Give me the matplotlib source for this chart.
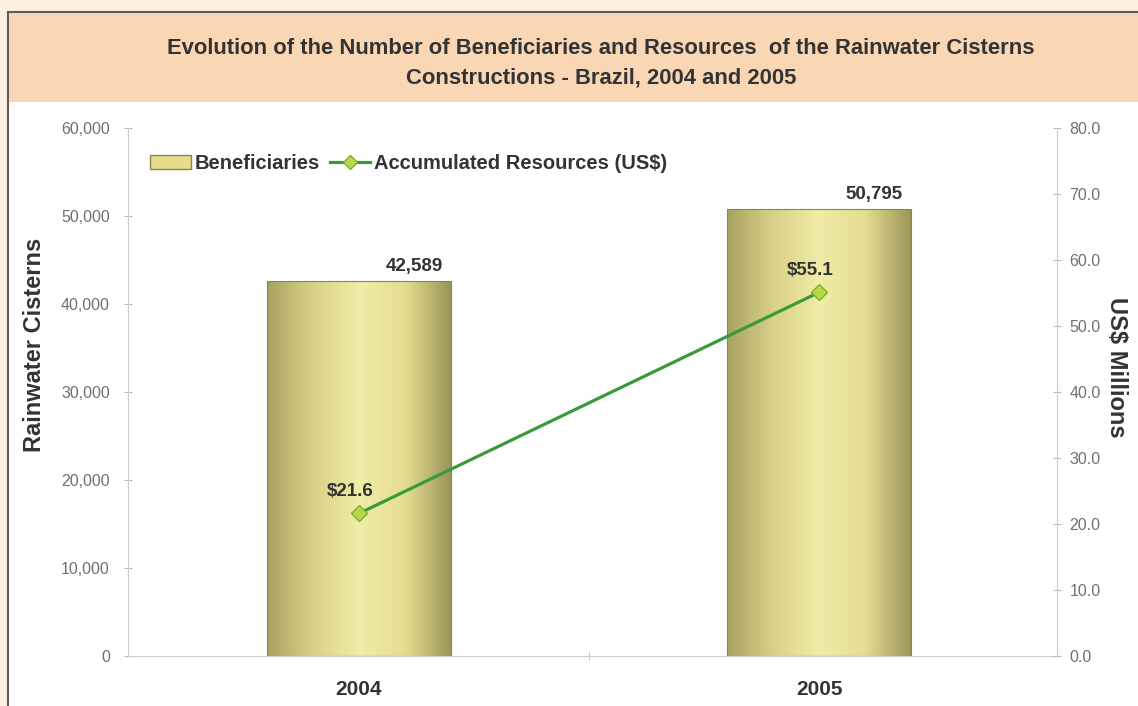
import matplotlib.pyplot as plt
import numpy as np
from matplotlib.colors import LinearSegmentedColormap
from matplotlib.patches import Patch, Rectangle
from matplotlib.lines import Line2D

plt.rcParams['font.family'] = ['Liberation Sans', 'DejaVu Sans']

# data
years = ['2004', '2005']
beneficiaries = [42589, 50795]
resources = [21.6, 55.1]
bar_labels = ['42,589', '50,795']
res_labels = ['$21.6', '$55.1']

fig = plt.figure(figsize=(11.38, 7.06), dpi=100)
fig.patch.set_facecolor('#fdf0e1')

# framed panel with peach title band
fig.patches.append(Rectangle((0.007, -0.01), 1.0, 0.993, transform=fig.transFigure,
                             facecolor='white', edgecolor='#5a5a5a', lw=1.5, zorder=-2))
fig.patches.append(Rectangle((0.008, 0.855), 1.0, 0.126, transform=fig.transFigure,
                             facecolor='#f9d6b4', edgecolor='none', zorder=-1))
fig.text(0.528, 0.932, 'Evolution of the Number of Beneficiaries and Resources  of the Rainwater Cisterns',
         ha='center', va='center', fontsize=15.8, fontweight='bold', color='#333333')
fig.text(0.528, 0.889, 'Constructions - Brazil, 2004 and 2005',
         ha='center', va='center', fontsize=15.8, fontweight='bold', color='#333333')

ax = fig.add_axes([0.1125, 0.0708, 0.8163, 0.748])
ax.set_facecolor('none')
x = np.arange(len(years))
width = 0.4

# shaded cylinder-like bars
cmap = LinearSegmentedColormap.from_list('olive', ['#a8a260', '#d8d288', '#f1eca6', '#e4de92', '#9a9456'])
grad = np.linspace(0, 1, 256).reshape(1, -1)
for xi, h, lab in zip(x, beneficiaries, bar_labels):
    bar = ax.bar(xi, h, width=width, color='none', edgecolor='#8a8450', lw=0.8, zorder=3)[0]
    im = ax.imshow(grad, extent=[xi - width / 2, xi + width / 2, 0, h], aspect='auto',
                   cmap=cmap, zorder=2)
    im.set_clip_path(bar)
    ax.text(xi + 0.12, h + 700, lab, ha='center', va='bottom', fontsize=13.5,
            fontweight='bold', color='#333333')

ax.set_xlim(-0.502, 1.517)
ax.set_ylim(0, 60000)
ax.set_yticks(np.arange(0, 60001, 10000))
ax.set_yticklabels(['0', '10,000', '20,000', '30,000', '40,000', '50,000', '60,000'])
ax.set_xticks(x)
ax.set_xticklabels(years, fontsize=15, fontweight='bold', color='#333333')
ax.set_xticks([0.5], minor=True)
ax.tick_params(axis='x', which='major', length=0, pad=17)
ax.tick_params(axis='x', which='minor', length=6, direction='inout', color='#bbbbbb')
ax.tick_params(axis='y', labelsize=11.5, labelcolor='#707070', color='#bbbbbb',
               direction='inout', length=6, pad=10)
ax.set_ylabel('Rainwater Cisterns', fontsize=17, fontweight='bold', color='#333333')
ax.yaxis.set_label_coords(-0.088, 0.589)
for side in ['top', 'right']:
    ax.spines[side].set_visible(False)
for side in ['left', 'bottom']:
    ax.spines[side].set_color('#cccccc')

# accumulated resources on the secondary axis
ax2 = ax.twinx()
ax2.plot(x, resources, color='#3a9a3a', lw=2.3, marker='D', markersize=8,
         markerfacecolor='#b8d848', markeredgecolor='#7ab030', zorder=4)
for xi, v, lab in zip(x, resources, res_labels):
    ax2.text(xi - 0.02, v + 2.0, lab, ha='center', va='bottom', fontsize=13.5,
             fontweight='bold', color='#333333')
ax2.set_ylim(0, 80)
ax2.set_yticks(np.arange(0, 81, 10))
ax2.set_yticklabels([f'{v:.1f}' for v in np.arange(0, 81, 10)])
ax2.tick_params(axis='y', labelsize=11.5, labelcolor='#707070', color='#bbbbbb',
                direction='inout', length=6, pad=6)
ax2.set_ylabel('US$ Millions', fontsize=17, fontweight='bold', color='#333333', rotation=270)
ax2.yaxis.set_label_coords(1.076, 0.547)
for side in ['top', 'left', 'bottom']:
    ax2.spines[side].set_visible(False)
ax2.spines['right'].set_color('#cccccc')

handles = [Patch(facecolor='#e4de8c', edgecolor='#8a8450'),
           Line2D([], [], color='#3a9a3a', lw=2.3, marker='D', markersize=7,
                  markerfacecolor='#b8d848', markeredgecolor='#7ab030')]
leg = ax2.legend(handles, ['Beneficiaries', 'Accumulated Resources (US$)'], loc='center left',
                 bbox_to_anchor=(0.024, 0.933), ncol=2, frameon=False, fontsize=14.5,
                 handlelength=2.0, columnspacing=0.5, handletextpad=0.2, borderpad=0,
                 borderaxespad=0)
for t in leg.get_texts():
    t.set_fontweight('bold')
    t.set_color('#333333')

fig.savefig('out.png', dpi=100, facecolor=fig.get_facecolor())
